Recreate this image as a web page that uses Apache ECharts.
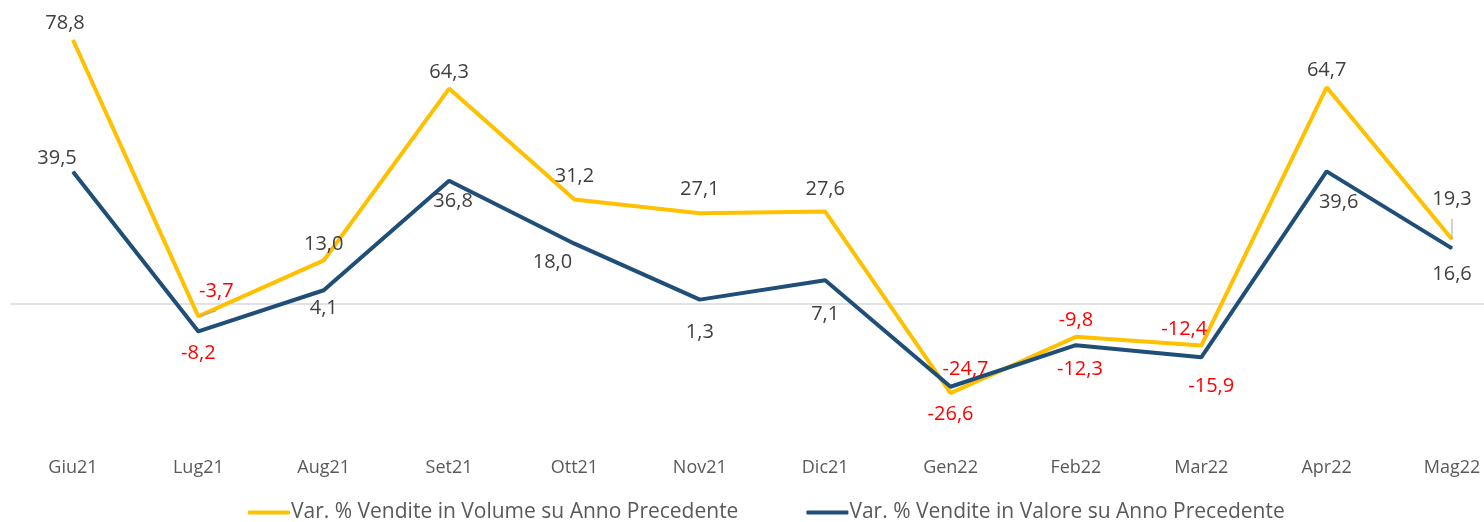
<!DOCTYPE html>
<html>
<head>
<meta charset="utf-8">
<script src="https://cdn.jsdelivr.net/npm/echarts@6/dist/echarts.min.js"></script>
<style>
  html, body { margin: 0; padding: 0; background: #fff; }
  #chart { width: 1484px; height: 522px; }
</style>
</head>
<body>
<div id="chart"></div>
<script>
// mesi
const categories = ['Giu21', 'Lug21', 'Aug21', 'Set21', 'Ott21', 'Nov21', 'Dic21', 'Gen22', 'Feb22', 'Mar22', 'Apr22', 'Mag22'];
// variazioni % su anno precedente
const volume = [78.8, -3.7, 13.0, 64.3, 31.2, 27.1, 27.6, -26.6, -9.8, -12.4, 64.7, 19.3];
const valore = [39.5, -8.2, 4.1, 36.8, 18.0, 1.3, 7.1, -24.7, -12.3, -15.9, 39.6, 16.6];
const seriesNames = ['Var. % Vendite in Volume su Anno Precedente', 'Var. % Vendite in Valore su Anno Precedente'];

const FONT = '"Open Sans", sans-serif';

function fmt(v) {
  return v.toFixed(1).replace('.', ',');
}

// etichette: volume sopra, valore sotto (tranne alcune eccezioni)
function buildData(values, special, leaders) {
  return values.map(function (v, i) {
    const item = { value: v, label: { color: v < 0 ? '#FF0000' : '#404040' } };
    if (special[i]) Object.assign(item.label, special[i]);
    if (leaders.indexOf(i) >= 0) {
      item.labelLine = { show: true, lineStyle: { color: '#A6A6A6', width: 1 } };
    }
    return item;
  });
}

const volumeData = buildData(volume, {
  0: { offset: [-8, 0] },
  1: { offset: [18, -9] },
  4: { offset: [0, -7] },
  5: { offset: [0, -7] },
  6: { offset: [0, -6] },
  7: { position: 'bottom', distance: 8, offset: [0, 3] },
  9: { offset: [-17, 0] },
  11: { offset: [0, -24] }
}, [1, 11]);
const valoreData = buildData(valore, {
  0: { position: 'top', distance: 3, offset: [-16, 0] },
  1: { offset: [0, 3] },
  3: { offset: [4, 2] },
  4: { offset: [-22, 0] },
  5: { offset: [0, 14] },
  6: { offset: [0, 16] },
  7: { position: 'top', offset: [15, 1] },
  8: { offset: [4, 6] },
  9: { offset: [10, 11] },
  10: { offset: [12, 12] },
  11: { offset: [0, 7] }
}, []);

const chart = echarts.init(document.getElementById('chart'));

const option = {
  animation: false,
  textStyle: { fontFamily: FONT },
  grid: [
    { left: 73, right: 32, top: 36, bottom: 84 },
    // griglia a tutta larghezza solo per la linea dello zero
    { left: 11, right: 0, top: 36, bottom: 84 }
  ],
  legend: {
    left: 243,
    top: 497,
    itemGap: 68,
    itemWidth: 42,
    itemHeight: 4,
    icon: 'roundRect',
    textStyle: { fontSize: 21, color: '#595959', fontFamily: FONT, padding: [0, 0, 0, -4] },
    data: seriesNames
  },
  xAxis: [
    {
      type: 'category',
      data: categories,
      boundaryGap: false,
      axisLine: { show: false, onZero: false },
      axisTick: { show: false },
      axisLabel: { fontSize: 18, color: '#595959', margin: 21, fontFamily: FONT }
    },
    {
      type: 'category',
      gridIndex: 1,
      data: [''],
      axisLine: { show: true, onZero: true, lineStyle: { color: '#D9D9D9', width: 1.5 } },
      axisTick: { show: false },
      axisLabel: { show: false }
    }
  ],
  yAxis: [
    { type: 'value', min: -40, max: 80, show: false, splitLine: { show: false } },
    { type: 'value', gridIndex: 1, min: -40, max: 80, show: false, splitLine: { show: false } }
  ],
  series: [
    {
      name: seriesNames[0],
      type: 'line',
      data: volumeData,
      symbol: 'circle',
      symbolSize: 1,
      showSymbol: true,
      lineStyle: { color: '#FFC000', width: 4 },
      itemStyle: { color: '#FFC000' },
      z: 2,
      label: {
        show: true,
        position: 'top',
        distance: 6,
        fontSize: 20,
        fontFamily: FONT,
        formatter: function (p) { return fmt(p.value); }
      }
    },
    {
      name: seriesNames[1],
      type: 'line',
      data: valoreData,
      symbol: 'circle',
      symbolSize: 1,
      showSymbol: true,
      lineStyle: { color: '#1F4E79', width: 4 },
      itemStyle: { color: '#1F4E79' },
      z: 3,
      label: {
        show: true,
        position: 'bottom',
        distance: 8,
        fontSize: 20,
        fontFamily: FONT,
        formatter: function (p) { return fmt(p.value); }
      }
    }
  ]
};

chart.setOption(option);
</script>
</body>
</html>
